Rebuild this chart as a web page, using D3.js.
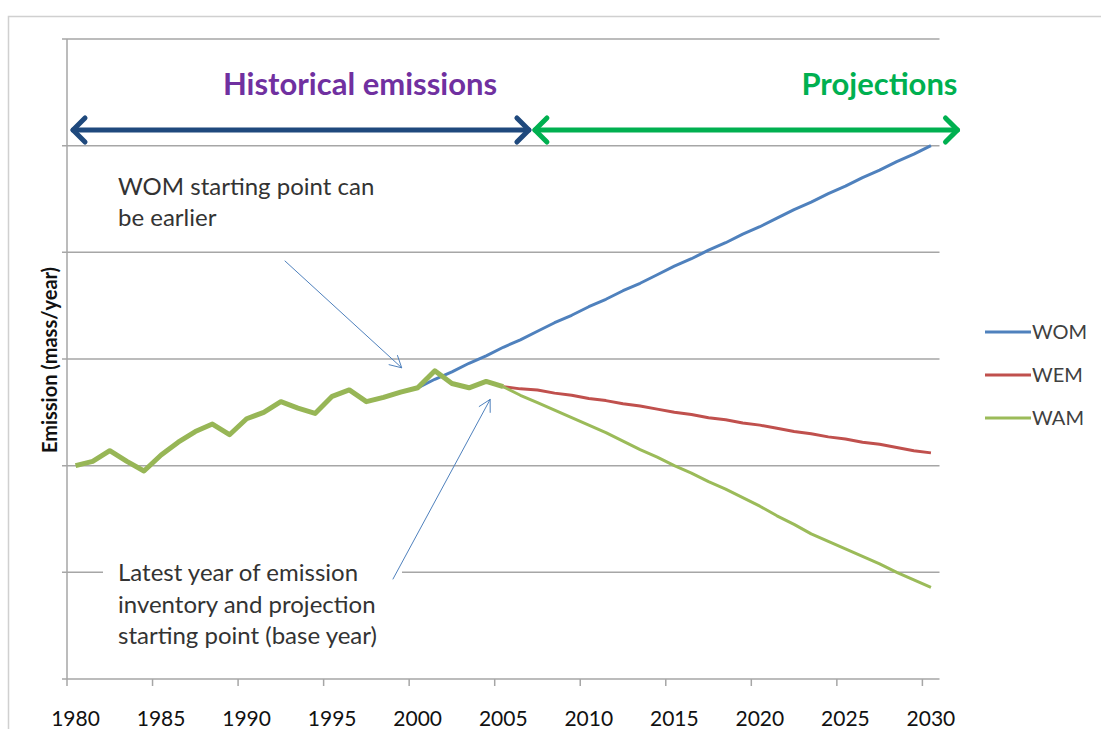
<!DOCTYPE html>
<html>
<head>
<meta charset="utf-8">
<script src="https://cdn.jsdelivr.net/npm/d3@7"></script>
<style>
  body { margin: 0; background: #fff; }
  text { font-family: Lato, "Open Sans", sans-serif; }
</style>
</head>
<body>
<div id="chart"></div>
<script>
// categories
var firstYear = 1980, lastYear = 2030;
var years = d3.range(firstYear, lastYear + 1);
var tickYears = [1980, 1985, 1990, 1995, 2000, 2005, 2010, 2015, 2020, 2025, 2030];
var gridValues = [0, 1, 2, 3, 4, 5, 6];

// historical inventory 1980-2005
var histYears = d3.range(1980, 2006);
var histValues = [2.00, 2.04, 2.14, 2.04, 1.95, 2.10, 2.22, 2.32, 2.39, 2.29,
                  2.44, 2.50, 2.60, 2.54, 2.49, 2.65, 2.71, 2.60, 2.64, 2.69,
                  2.73, 2.89, 2.77, 2.73, 2.79, 2.74];

// without measures, from 2000
var womYears = d3.range(2000, 2031);
var womValues = [2.73, 2.81, 2.88, 2.96, 3.03, 3.11, 3.18, 3.26, 3.34, 3.41,
                 3.49, 3.56, 3.64, 3.71, 3.79, 3.87, 3.94, 4.02, 4.09, 4.17,
                 4.24, 4.32, 4.40, 4.47, 4.55, 4.62, 4.70, 4.77, 4.85, 4.92, 5.00];

// with existing / additional measures, from 2005
var projYears = d3.range(2005, 2031);
var wemValues = [2.74, 2.72, 2.71, 2.68, 2.66, 2.63, 2.61, 2.58, 2.56, 2.53,
                 2.50, 2.48, 2.45, 2.43, 2.40, 2.38, 2.35, 2.32, 2.30, 2.27,
                 2.25, 2.22, 2.20, 2.17, 2.14, 2.12];
var wamValues = [2.74, 2.66, 2.59, 2.52, 2.45, 2.38, 2.31, 2.23, 2.15, 2.08,
                 2.00, 1.93, 1.85, 1.78, 1.70, 1.62, 1.53, 1.45, 1.36, 1.29,
                 1.22, 1.15, 1.08, 1.00, 0.93, 0.86];

var seriesNames = ["WOM", "WEM", "WAM"];
var seriesColors = ["#4f81bd", "#c0504d", "#9bbb59"];

var width = 1101, height = 729;
var plot = { left: 67, right: 939.5, top: 39, bottom: 679 };

var svg = d3.select("#chart").append("svg")
  .attr("width", width)
  .attr("height", height);

svg.append("rect").attr("width", width).attr("height", height).attr("fill", "#fff");

// outer chart frame (cut off on right / bottom)
svg.append("path")
  .attr("d", "M8.5," + height + "V16.5H" + width)
  .attr("fill", "none")
  .attr("stroke", "#d0d0d0")
  .attr("stroke-width", 1.5);

var x = d3.scaleBand().domain(years).range([plot.left, plot.right]);
var y = d3.scaleLinear().domain([0, 6]).range([plot.bottom, plot.top]);
var cx = function(yr) { return x(yr) + x.bandwidth() / 2; };

/* ------- GRID & AXES ------- */
svg.append("g").selectAll("line")
  .data(gridValues.slice(1))
  .enter().append("line")
  .attr("x1", plot.left - 5).attr("x2", plot.right)
  .attr("y1", function(d) { return y(d); })
  .attr("y2", function(d) { return y(d); })
  .attr("stroke", "#a6a6a6")
  .attr("stroke-width", 1.5);

svg.append("line")
  .attr("x1", plot.left).attr("x2", plot.left)
  .attr("y1", plot.top).attr("y2", plot.bottom)
  .attr("stroke", "#a6a6a6").attr("stroke-width", 1.5);

var xAxis = svg.append("g");
xAxis.append("line")
  .attr("x1", plot.left - 5).attr("x2", plot.right)
  .attr("y1", plot.bottom).attr("y2", plot.bottom)
  .attr("stroke", "#a6a6a6").attr("stroke-width", 1.5);
xAxis.selectAll("line.tick")
  .data(tickYears)
  .enter().append("line")
  .attr("class", "tick")
  .attr("x1", function(d) { return x(d); })
  .attr("x2", function(d) { return x(d); })
  .attr("y1", plot.bottom).attr("y2", plot.bottom + 7)
  .attr("stroke", "#a6a6a6").attr("stroke-width", 1.5);
xAxis.selectAll("text")
  .data(tickYears)
  .enter().append("text")
  .attr("x", function(d) { return cx(d); })
  .attr("y", 726)
  .attr("text-anchor", "middle")
  .attr("font-size", 21)
  .attr("fill", "#111")
  .text(function(d) { return d; });

svg.append("text")
  .attr("transform", "translate(57,360) rotate(-90)")
  .attr("text-anchor", "middle")
  .attr("font-size", 20)
  .attr("font-weight", "bold")
  .attr("fill", "#111")
  .text("Emission (mass/year)");

/* ------- ANNOTATION BOX (hides grid line) ------- */
svg.append("rect")
  .attr("x", 103).attr("y", 553)
  .attr("width", 299).attr("height", 100)
  .attr("fill", "#fff");

/* ------- SERIES ------- */
var line = d3.line()
  .x(function(d) { return cx(d.year); })
  .y(function(d) { return y(d.value); });

function pairs(yrs, vals) {
  return yrs.map(function(yr, i) { return { year: yr, value: vals[i] }; });
}

var series = [
  { name: "WOM", data: pairs(womYears, womValues) },
  { name: "WEM", data: pairs(projYears, wemValues) },
  { name: "WAM", data: pairs(projYears, wamValues) }
];

svg.append("g").selectAll("path")
  .data(series)
  .enter().append("path")
  .attr("d", function(d) { return line(d.data); })
  .attr("fill", "none")
  .attr("stroke", function(d, i) { return seriesColors[i]; })
  .attr("stroke-width", 3)
  .attr("stroke-linejoin", "round");

svg.append("path")
  .attr("d", line(pairs(histYears, histValues)))
  .attr("fill", "none")
  .attr("stroke", "#97b656")
  .attr("stroke-width", 5)
  .attr("stroke-linejoin", "round");

/* ------- ARROWS ------- */
function arrow(x1, y1, x2, y2, color, w, len, ang, both) {
  var g = svg.append("g")
    .attr("fill", "none")
    .attr("stroke", color)
    .attr("stroke-width", w)
    .attr("stroke-linecap", "round")
    .attr("stroke-linejoin", "round");
  g.append("line").attr("x1", x1).attr("y1", y1).attr("x2", x2).attr("y2", y2);
  function head(tx, ty, fx, fy) {
    var a = Math.atan2(ty - fy, tx - fx);
    var p1 = [tx - len * Math.cos(a - ang), ty - len * Math.sin(a - ang)];
    var p2 = [tx - len * Math.cos(a + ang), ty - len * Math.sin(a + ang)];
    g.append("polyline").attr("points", [p1, [tx, ty], p2].join(" "));
  }
  head(x2, y2, x1, y1);
  if (both) head(x1, y1, x2, y2);
}

var arrowY = 130;
arrow(x(1980) + 6, arrowY, x(2007), arrowY, "#1f497d", 5, 17, Math.PI / 4, true);
arrow(x(2007) + 6, arrowY, plot.right + 18, arrowY, "#00b050", 5, 17, Math.PI / 4, true);

svg.append("text")
  .attr("x", 360).attr("y", 95)
  .attr("text-anchor", "middle")
  .attr("font-size", 31)
  .attr("font-weight", "bold")
  .attr("fill", "#7030a0")
  .text("Historical emissions");

svg.append("text")
  .attr("x", plot.right + 18).attr("y", 95)
  .attr("text-anchor", "end")
  .attr("font-size", 31)
  .attr("font-weight", "bold")
  .attr("fill", "#00b050")
  .text("Projections");

// annotation arrows
arrow(285, 261, cx(2000) - 16, y(histValues[20]) - 20, "#4f81bd", 1, 13, 0.5, false);
arrow(393, 579, cx(2004) + 4, y(histValues[24]) + 18, "#4f81bd", 1, 13, 0.5, false);

var note1 = ["WOM starting point can", "be earlier"];
var note2 = ["Latest year of emission", "inventory and projection", "starting point (base year)"];

svg.append("g").selectAll("text")
  .data(note1)
  .enter().append("text")
  .attr("x", 118)
  .attr("y", function(d, i) { return 195 + i * 31; })
  .attr("font-size", 24)
  .attr("fill", "#333")
  .text(function(d) { return d; });

svg.append("g").selectAll("text")
  .data(note2)
  .enter().append("text")
  .attr("x", 118)
  .attr("y", function(d, i) { return 581 + i * 31.5; })
  .attr("font-size", 24)
  .attr("fill", "#333")
  .text(function(d) { return d; });

/* ------- LEGEND ------- */
var legend = svg.append("g").selectAll("g")
  .data(seriesNames)
  .enter().append("g")
  .attr("transform", function(d, i) { return "translate(985," + (332 + i * 43) + ")"; });

legend.append("line")
  .attr("x1", 0).attr("x2", 46)
  .attr("stroke", function(d, i) { return seriesColors[i]; })
  .attr("stroke-width", 3);

legend.append("text")
  .attr("x", 47).attr("y", 7)
  .attr("font-size", 20)
  .attr("fill", "#404040")
  .text(function(d) { return d; });
</script>
</body>
</html>
